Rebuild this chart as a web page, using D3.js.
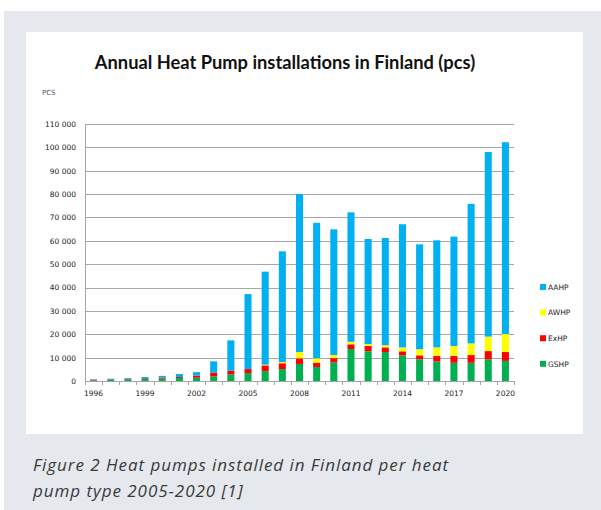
<!DOCTYPE html>
<html>
<head>
<meta charset="utf-8">
<script src="https://cdn.jsdelivr.net/npm/d3@7"></script>
<style>
  body { margin: 0; background: #fff; }
  svg { display: block; }
</style>
</head>
<body>
<div id="chart"></div>
<script>
// data (pcs per year)
var years = ["1996","1997","1998","1999","2000","2001","2002","2003","2004","2005","2006","2007","2008",
             "2009","2010","2011","2012","2013","2014","2015","2016","2017","2018","2019","2020"];
var gshp = [300, 500, 700, 900, 1000, 1300, 1400, 2000, 2800, 3400, 4200, 5100, 7300,
            6000, 8000, 13700, 12700, 12400, 11000, 9300, 8400, 7800, 7800, 9300, 8600];
var exhp = [300, 200, 300, 300, 500, 400, 900, 1600, 1600, 1700, 2500, 2500, 2400,
            1900, 1800, 2000, 2300, 2000, 1700, 1700, 2300, 2900, 3300, 3500, 3800];
var awhp = [0, 0, 0, 0, 0, 0, 0, 0, 0, 0, 300, 500, 2700,
            1800, 1300, 1100, 800, 900, 1700, 2600, 3700, 4300, 5000, 6200, 7700];
var aahp = [100, 300, 300, 500, 700, 1300, 1500, 4800, 13000, 32100, 39800, 47400, 67600,
            58000, 53800, 55400, 45000, 45900, 52700, 44900, 45800, 46800, 59700, 79000, 82100];
var yTicks = [0, 10000, 20000, 30000, 40000, 50000, 60000, 70000, 80000, 90000, 100000, 110000];
var xLabels = ["1996","1999","2002","2005","2008","2011","2014","2017","2020"];
var seriesNames = ["GSHP", "ExHP", "AWHP", "AAHP"];
var legendOrder = ["AAHP", "AWHP", "ExHP", "GSHP"];
var colors = {GSHP: "#00b050", ExHP: "#ff0000", AWHP: "#ffff00", AAHP: "#00b0f0"};

var width = 601, height = 510;
var plot = {left: 85, right: 514, top: 124, bottom: 381};

var svg = d3.select("#chart").append("svg")
    .attr("width", width)
    .attr("height", height);

// page background and white panel
svg.append("rect").attr("x", 4).attr("y", 11).attr("width", width - 4).attr("height", height - 11)
    .attr("fill", "#e5e9ed");
svg.append("rect").attr("x", 26).attr("y", 32).attr("width", 557).attr("height", 402)
    .attr("fill", "#fff");

// build table for stacking
var table = years.map(function (y, i) {
    return {year: y, GSHP: gshp[i], ExHP: exhp[i], AWHP: awhp[i], AAHP: aahp[i]};
});
var stacked = d3.stack().keys(seriesNames)(table);

var x = d3.scaleBand().domain(years).range([plot.left, plot.right]).paddingInner(0.59).paddingOuter(0.295);
var y = d3.scaleLinear().domain([0, 110000]).range([plot.bottom, plot.top]);

// gridlines
svg.append("g").selectAll("line")
    .data(yTicks.filter(function (d) { return d > 0; }))
    .enter().append("line")
    .attr("x1", plot.left).attr("x2", plot.right)
    .attr("y1", function (d) { return Math.round(y(d)) + 0.5; })
    .attr("y2", function (d) { return Math.round(y(d)) + 0.5; })
    .attr("stroke", "#a6a6a6").attr("stroke-width", 1);

// bars
svg.append("g").selectAll("g")
    .data(stacked)
    .enter().append("g")
    .attr("fill", function (d) { return colors[d.key]; })
    .selectAll("rect")
    .data(function (d) { return d; })
    .enter().append("rect")
    .attr("x", function (d) { return x(d.data.year); })
    .attr("width", x.bandwidth())
    .attr("y", function (d) { return y(d[1]); })
    .attr("height", function (d) { return y(d[0]) - y(d[1]); });

// y axis
var yAxis = svg.append("g")
    .attr("transform", "translate(" + plot.left + ",0)")
    .call(d3.axisLeft(y).tickValues(yTicks).tickSize(0).tickPadding(9)
        .tickFormat(function (d) { return d3.format(",")(d).replace(/,/g, " "); }));
yAxis.select(".domain").attr("stroke", "#a6a6a6");
yAxis.selectAll("text")
    .attr("font-family", "DejaVu Sans, sans-serif")
    .attr("font-size", "7.5px")
    .attr("fill", "#222");

// x axis: ticks at category boundaries, labels every third year
var xAxis = svg.append("g").attr("transform", "translate(0," + plot.bottom + ")");
xAxis.append("line").attr("x1", plot.left).attr("x2", plot.right).attr("y1", 0.5).attr("y2", 0.5)
    .attr("stroke", "#a6a6a6");
xAxis.selectAll("line.tick")
    .data(years.concat(["end"]))
    .enter().append("line")
    .attr("class", "tick")
    .attr("x1", function (d, i) { return Math.round(plot.left + i * x.step()) + 0.5; })
    .attr("x2", function (d, i) { return Math.round(plot.left + i * x.step()) + 0.5; })
    .attr("y1", 0).attr("y2", 4)
    .attr("stroke", "#a6a6a6");
xAxis.selectAll("text")
    .data(xLabels)
    .enter().append("text")
    .attr("x", function (d) { return x(d) + x.bandwidth() / 2; })
    .attr("y", 15)
    .attr("text-anchor", "middle")
    .attr("font-family", "DejaVu Sans, sans-serif")
    .attr("font-size", "7.5px")
    .attr("fill", "#222")
    .text(function (d) { return d; });

// title and unit
svg.append("text")
    .attr("x", 285).attr("y", 69)
    .attr("text-anchor", "middle")
    .attr("font-family", "Lato, sans-serif")
    .attr("font-weight", "bold")
    .attr("font-size", "18.3px")
    .attr("fill", "#111")
    .text("Annual Heat Pump installations in Finland (pcs)");
svg.append("text")
    .attr("x", 42).attr("y", 95)
    .attr("font-family", "DejaVu Sans, sans-serif")
    .attr("font-size", "7px")
    .attr("fill", "#44546a")
    .text("PCS");

// legend
var legend = svg.append("g").selectAll("g")
    .data(legendOrder)
    .enter().append("g")
    .attr("transform", function (d, i) { return "translate(540," + (287 + i * 25.6) + ")"; });
legend.append("rect")
    .attr("x", 0).attr("y", -3).attr("width", 6).attr("height", 6)
    .attr("fill", function (d) { return colors[d]; });
legend.append("text")
    .attr("x", 8).attr("y", 2.7)
    .attr("font-family", "DejaVu Sans, sans-serif")
    .attr("font-size", "7.5px")
    .attr("fill", "#222")
    .text(function (d) { return d; });

// caption
var caption = ["Figure 2 Heat pumps installed in Finland per heat", "pump type 2005-2020 [1]"];
svg.append("g").selectAll("text")
    .data(caption)
    .enter().append("text")
    .attr("x", 33)
    .attr("y", function (d, i) { return 471 + i * 26; })
    .attr("font-family", "Open Sans, sans-serif")
    .attr("font-style", "italic")
    .attr("font-size", "17px")
    .attr("letter-spacing", "0.95px")
    .attr("fill", "#3a3a3a")
    .text(function (d) { return d; });
</script>
</body>
</html>
